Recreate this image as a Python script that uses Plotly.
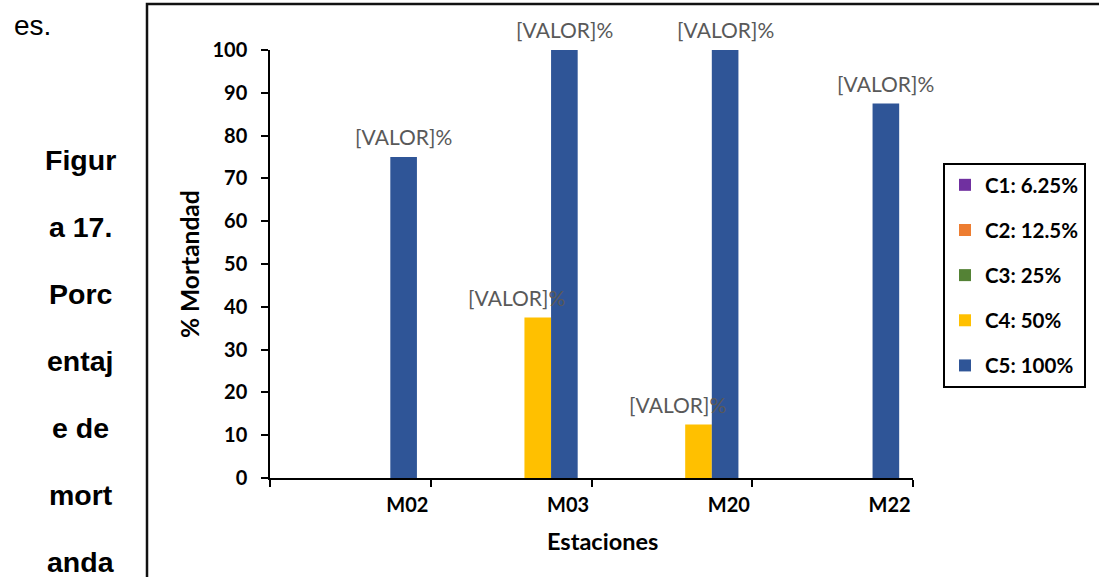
import plotly.graph_objects as go

# Stations (categories) and mortality (%) for each concentration series
estaciones = ["M02", "M03", "M20", "M22"]
series_names = ["C1: 6.25%", "C2: 12.5%", "C3: 25%", "C4: 50%", "C5: 100%"]
c1 = [0, 0, 0, 0]
c2 = [0, 0, 0, 0]
c3 = [0, 0, 0, 0]
c4 = [0, 37.5, 12.5, 0]
c5 = [75, 100, 100, 87.5]
series_values = [c1, c2, c3, c4, c5]
y_ticks = list(range(0, 101, 10))
label_text = "[VALOR]%"
side_lines = ["es.", "Figur", "a 17.", "Porc", "entaj", "e de", "mort", "anda"]

colors = ["#7030A0", "#ED7D31", "#548235", "#FFC000", "#2F5597"]

W, H = 1099, 577
L, R, T, B = 270, 186, 50, 99
PW = W - L - R
PH = H - T - B
BARGAP = 0.172
bar_w = PW / len(estaciones) * (1 - BARGAP) / len(series_names)


def px_x(p):
    return (p - L) / PW


def px_y(p):
    return (H - B - p) / PH


CHART_FONT = "Lato"
fig = go.Figure()
for name, vals, col in zip(series_names, series_values, colors):
    fig.add_trace(go.Bar(
        name=name, x=estaciones, y=vals, marker_color=col,
        marker_line_width=0, legendgroup=name,
    ))

annotations = []
# data labels above the non-zero bars
label_nudge = {3: -21, 4: 0}
for i, vals in enumerate(series_values):
    for cat, v in zip(estaciones, vals):
        if v > 0:
            annotations.append(dict(
                x=cat, y=v, xref="x", yref="y", text=label_text, showarrow=False,
                xanchor="center", yanchor="bottom",
                xshift=(i - 2) * bar_w + label_nudge.get(i, 0), yshift=6,
                font=dict(family=CHART_FONT, size=21, color="#595959"),
            ))

# axis titles
annotations.append(dict(
    x=px_x(602), y=px_y(541), xref="paper", yref="paper", text="Estaciones",
    showarrow=False, xanchor="center", yanchor="middle",
    font=dict(family=CHART_FONT, size=23.5, color="black", weight="bold"),
))
annotations.append(dict(
    x=px_x(189), y=px_y(264), xref="paper", yref="paper", text="% Mortandad",
    showarrow=False, xanchor="center", yanchor="middle", textangle=-90,
    font=dict(family=CHART_FONT, size=24.5, color="black", weight="bold"),
))

# running caption text in the left column
baselines = [35, 170, 237, 304, 371, 438, 505, 572]
for k, (txt, base) in enumerate(zip(side_lines, baselines)):
    if k == 0:
        annotations.append(dict(
            x=px_x(12), y=px_y(base - 10), xref="paper", yref="paper", text=txt,
            showarrow=False, xanchor="left", yanchor="middle",
            font=dict(family="Liberation Sans", size=28, color="black"),
        ))
    else:
        annotations.append(dict(
            x=px_x(81), y=px_y(base - 10), xref="paper", yref="paper", text=txt,
            showarrow=False, xanchor="center", yanchor="middle",
            font=dict(family="Liberation Sans", size=28.5, color="black", weight="bold"),
        ))

# chart frame
shapes = [dict(
    type="rect", xref="paper", yref="paper",
    x0=px_x(147), x1=px_x(1115), y0=px_y(4), y1=px_y(600),
    line=dict(color="#111111", width=2.5), fillcolor="rgba(0,0,0,0)", layer="below",
)]

fig.update_layout(
    width=W, height=H,
    margin=dict(l=L, r=R, t=T, b=B, autoexpand=False),
    paper_bgcolor="white", plot_bgcolor="white",
    barmode="group", bargap=BARGAP, bargroupgap=0,
    showlegend=True,
    legend=dict(
        x=px_x(943), y=px_y(163), xanchor="left", yanchor="top",
        bordercolor="black", borderwidth=2, bgcolor="white",
        font=dict(family=CHART_FONT, size=20.5, color="black", weight="bold"),
        tracegroupgap=15.5, traceorder="grouped",
    ),
    xaxis=dict(
        type="category", range=[-0.5, 3.5], tickson="boundaries",
        ticks="outside", ticklen=7, tickwidth=1.5, tickcolor="black",
        showline=True, linecolor="black", linewidth=2,
        showgrid=False, zeroline=False,
        ticklabelshift=57, ticklabelstandoff=8,
        tickfont=dict(family=CHART_FONT, size=20, color="black", weight="bold"),
    ),
    yaxis=dict(
        range=[0, 100], tickvals=y_ticks,
        ticks="outside", ticklen=7, tickwidth=1.5, tickcolor="black",
        showline=True, linecolor="black", linewidth=1.5,
        showgrid=False, zeroline=False, ticklabelstandoff=10,
        tickfont=dict(family=CHART_FONT, size=20, color="black", weight="bold"),
    ),
    annotations=annotations,
    shapes=shapes,
)

fig.write_html("out.html")
